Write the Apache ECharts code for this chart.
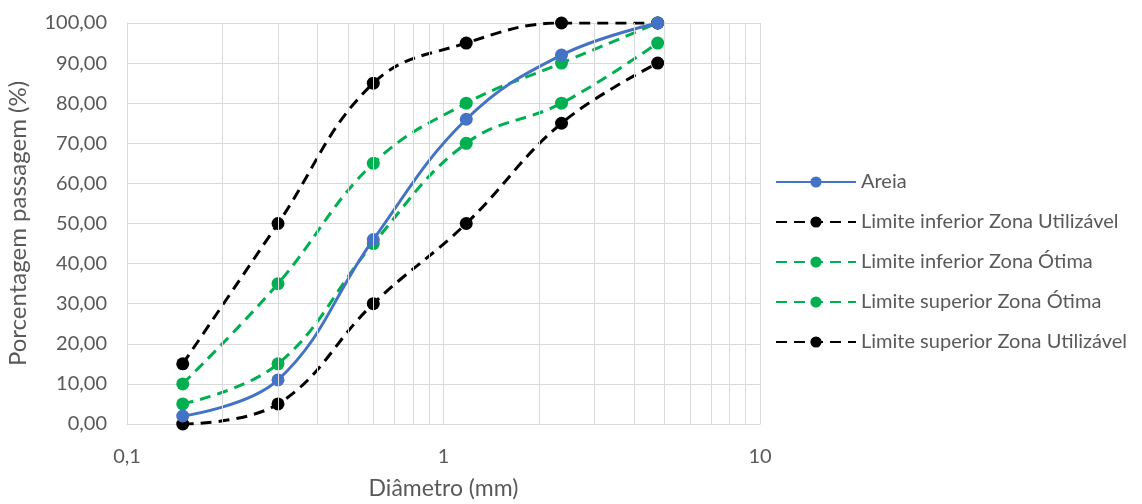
<!DOCTYPE html>
<html>
<head>
<meta charset="utf-8">
<script src="https://cdn.jsdelivr.net/npm/echarts@6/dist/echarts.min.js"></script>
<style>
  html, body { margin: 0; padding: 0; background: #fff; }
  #chart { width: 1142px; height: 504px; }
</style>
</head>
<body>
<div id="chart"></div>
<script>
// Sieve openings (mm) and passing percentages
const diametros = [0.15, 0.3, 0.6, 1.18, 2.36, 4.75];
const areia = [2, 11, 46, 76, 92, 100];
const infUtilizavel = [0, 5, 30, 50, 75, 90];
const infOtima = [5, 15, 45, 70, 80, 95];
const supOtima = [10, 35, 65, 80, 90, 100];
const supUtilizavel = [15, 50, 85, 95, 100, 100];
const minorGrid = [0.2, 0.3, 0.4, 0.5, 0.6, 0.7, 0.8, 0.9, 2, 3, 4, 5, 6, 7, 8, 9];

const FONT = "Lato";
const TEXT = "#595959";
const GRID = "#D9D9D9";

const pairs = (ys) => diametros.map((x, i) => [x, ys[i]]);

const dashedSeries = (name, ys, color) => ({
  name,
  type: "line",
  smooth: 0.4,
  symbol: "circle",
  symbolSize: 13,
  lineStyle: { color, width: 3, type: [11, 7] },
  itemStyle: { color },
  data: pairs(ys),
  z: 3,
});

const chart = echarts.init(document.getElementById("chart"));

chart.setOption({
  animation: false,
  textStyle: { fontFamily: FONT },
  grid: {
    left: 127,
    top: 23,
    width: 633,
    height: 401,
    containLabel: false,
    outerBoundsMode: "none",
  },
  legend: {
    orient: "vertical",
    left: 770,
    top: 167,
    itemWidth: 80,
    itemHeight: 14,
    itemGap: 20,
    textStyle: { color: TEXT, fontSize: 20, fontFamily: FONT },
    data: [
      "Areia",
      "Limite inferior Zona Utilizável",
      "Limite inferior Zona Ótima",
      "Limite superior Zona Ótima",
      "Limite superior Zona Utilizável",
    ],
  },
  xAxis: {
    type: "log",
    logBase: 10,
    min: 0.1,
    max: 10,
    name: "Diâmetro (mm)",
    nameLocation: "middle",
    nameGap: 53,
    nameTextStyle: { color: TEXT, fontSize: 23 },
    axisLine: { lineStyle: { color: GRID } },
    axisTick: { show: false },
    axisLabel: {
      color: TEXT,
      fontSize: 20,
      margin: 23,
      formatter: (v) => String(v).replace(".", ","),
    },
    splitLine: { show: true, lineStyle: { color: GRID } },
  },
  yAxis: {
    type: "value",
    min: 0,
    max: 100,
    interval: 10,
    name: "Porcentagem passagem (%)",
    nameLocation: "middle",
    nameGap: 97,
    nameTextStyle: { color: TEXT, fontSize: 24 },
    axisLine: { show: true, lineStyle: { color: GRID } },
    axisTick: { show: false },
    axisLabel: {
      color: TEXT,
      fontSize: 20,
      margin: 20,
      formatter: (v) => v.toFixed(2).replace(".", ","),
    },
    splitLine: { lineStyle: { color: GRID } },
  },
  series: [
    {
      // minor vertical gridlines of the log axis
      name: "grade",
      type: "line",
      data: [],
      silent: true,
      z: 0,
      markLine: {
        silent: true,
        symbol: "none",
        label: { show: false },
        lineStyle: { color: GRID, type: "solid", width: 1 },
        data: minorGrid.map((v) => ({ xAxis: v })),
      },
    },
    {
      name: "Areia",
      type: "line",
      smooth: 0.4,
      symbol: "circle",
      symbolSize: 13,
      lineStyle: { color: "#4472C4", width: 3 },
      itemStyle: { color: "#4472C4" },
      data: pairs(areia),
      z: 4,
    },
    dashedSeries("Limite inferior Zona Utilizável", infUtilizavel, "#000000"),
    dashedSeries("Limite inferior Zona Ótima", infOtima, "#00B050"),
    dashedSeries("Limite superior Zona Ótima", supOtima, "#00B050"),
    dashedSeries("Limite superior Zona Utilizável", supUtilizavel, "#000000"),
  ],
});
</script>
</body>
</html>
